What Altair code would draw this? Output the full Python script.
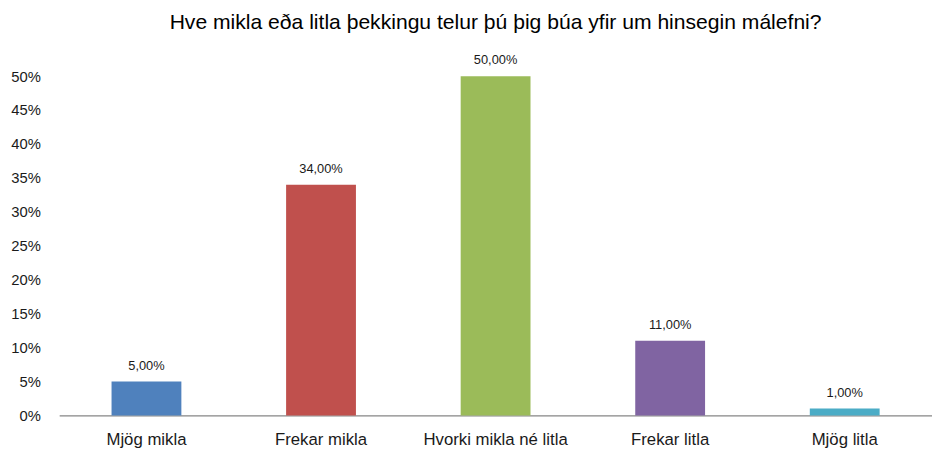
import altair as alt
import pandas as pd

categories = ["Mjög mikla", "Frekar mikla", "Hvorki mikla né litla", "Frekar litla", "Mjög litla"]
values = [0.05, 0.34, 0.50, 0.11, 0.01]
colors = ["#4F81BD", "#C0504D", "#9BBB59", "#8064A2", "#4BACC6"]
y_ticks = [0, 0.05, 0.10, 0.15, 0.20, 0.25, 0.30, 0.35, 0.40, 0.45, 0.50]
title_text = "Hve mikla eða litla þekkingu telur þú þig búa yfir um hinsegin málefni?"

df = pd.DataFrame({
    "cat": categories,
    "val": values,
    "label": [f"{v*100:.2f}%".replace(".", ",") for v in values],
})

FONT = "Liberation Sans"

base = alt.Chart(df).encode(
    x=alt.X("cat:N", sort=categories, title=None,
            scale=alt.Scale(paddingInner=0.6, paddingOuter=0.3),
            axis=alt.Axis(labelAngle=0, labelFont=FONT, labelFontSize=17, labelColor="#1a1a1a",
                          labelPadding=17, ticks=False, domainColor="#868686", domainWidth=1.2)),
    y=alt.Y("val:Q", title=None, scale=alt.Scale(domain=[0, 0.5], nice=False),
            axis=alt.Axis(format=".0%", values=y_ticks, grid=False, labelOverlap=False,
                          domain=False, ticks=False, labelFont=FONT, labelFontSize=15,
                          labelColor="#1a1a1a", labelPadding=19)),
)

bars = base.mark_bar().encode(
    color=alt.Color("cat:N", sort=categories, scale=alt.Scale(domain=categories, range=colors), legend=None),
)

text = base.mark_text(dy=-16, font=FONT, fontSize=13, color="#1a1a1a").encode(
    text="label:N",
)

chart = (bars + text).properties(
    width=885,
    height=344,
    title=alt.TitleParams(title_text, font=FONT, fontSize=21.4, fontWeight="normal",
                          color="#000000", offset=21, anchor="middle", frame="group"),
    padding={"left": 60, "top": 74, "right": 0, "bottom": 40},
    autosize=alt.AutoSizeParams(type="none"),
).configure(background="white").configure_view(stroke=None)

chart.save("out.html", embed_options={"renderer": "svg", "actions": False})
